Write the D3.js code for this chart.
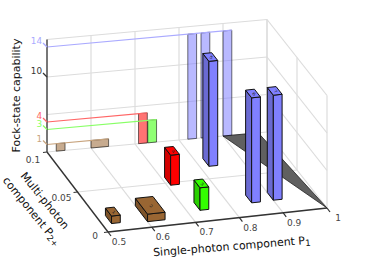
<!DOCTYPE html>
<html><head><meta charset="utf-8">
<script src="https://cdn.jsdelivr.net/npm/d3@7"></script>
<style>html,body{margin:0;padding:0;background:#fff}svg{display:block}text{font-family:"DejaVu Sans",sans-serif}</style>
</head><body><svg id="c" width="374" height="271"></svg>
<script>
const p1Ticks=[0.5,0.6,0.7,0.8,0.9,1];
const p2Ticks=[0,0.05,0.1];
const capGrid=[5,10,15];
const capTicks=[1,3,4,10,14];
const barLabels=["1","2","3","4","5","6","7"];
const barP1=[0.521,0.60,0.729,0.708,0.82,0.85,0.90];
const barP2=[0.0093,0.007,0.0137,0.047,0.065,0.016,0.0164];
const barP1Span=[0.02,0.04,0.02,0.02,0.02,0.02,0.02];
const barP2Span=[0.01,0.02,0.01,0.01,0.01,0.01,0.01];
const barCap=[1,1,3,4,14,14,14];
const regionP1=[1,0.9,0.98];
const regionP2=[0,0.1,0.1];

const barColor={1:"#996633",3:"#33ff00",4:"#ff0000",14:"#8080ff"};
const shadeColor={1:"#7d5329",3:"#29d000",4:"#d40000",14:"#6a6ad2"};
const tickColor={1:"#c8a47e",3:"#88ff66",4:"#ff6666",10:"#333",14:"#aaaaff"};

const sx=d3.scaleLinear().domain([0.5,1]).range([0,1]);
const sy=d3.scaleLinear().domain([0,0.1]).range([0,1]);
const sz=d3.scaleLinear().domain([0,15]).range([0,112.5]);
const O=[108,232],X=[327,208],Y=[47,152],XY=[267,132];
function proj(a,b,c){
  const u=sx(a),v=sy(b);
  const px=(1-u)*(1-v)*O[0]+u*(1-v)*X[0]+(1-u)*v*Y[0]+u*v*XY[0];
  const py=(1-u)*(1-v)*O[1]+u*(1-v)*X[1]+(1-u)*v*Y[1]+u*v*XY[1];
  return [px,py-sz(c||0)];
}
const svg=d3.select("#c");
const line=d3.line();
const path=(pts,close)=>line(pts)+(close?"Z":"");
function seg(g,a,b,color,w){g.append("path").attr("d",path([a,b])).attr("fill","none").attr("stroke",color).attr("stroke-width",w);}

// grid
const grid=svg.append("g");
const gc="#dcdcdc";
p1Ticks.slice(1).forEach(t=>{
  seg(grid,proj(t,0),proj(t,0.1),gc,1.2);
  seg(grid,proj(t,0.1),proj(t,0.1,15),gc,1.2);
});
p2Ticks.forEach(t=>{
  seg(grid,proj(0.5,t),proj(1,t),gc,1.2);
  seg(grid,proj(1,t),proj(1,t,15),gc,1.2);
});
capGrid.forEach(c=>{
  seg(grid,proj(0.5,0.1,c),proj(1,0.1,c),gc,1.2);
  seg(grid,proj(1,0.1,c),proj(1,0,c),gc,1.2);
});

// forbidden region
svg.append("path").attr("d",path(regionP1.map((p,i)=>proj(p,regionP2[i])),true))
  .attr("fill","#606060").attr("stroke","#222").attr("stroke-width",0.8);

// wall projections
const wall=svg.append("g");
barCap.forEach((c,i)=>{
  const a=barP1[i],b=a+barP1Span[i];
  wall.append("path").attr("d",path([proj(a,0.1),proj(a,0.1,c),proj(b,0.1,c),proj(b,0.1)],true))
    .attr("fill",barColor[c]).attr("fill-opacity",0.55).attr("stroke","#000").attr("stroke-opacity",0.55).attr("stroke-width",1);
});
capTicks.filter(c=>barColor[c]).forEach(c=>{
  const ends=barP1.map((p,i)=>barCap[i]===c?p+barP1Span[i]:0);
  seg(wall,proj(0.5,0.1,c),proj(d3.max(ends),0.1,c),tickColor[c],1.2);
});

// axes
const ax=svg.append("g");
const ac="#333";
seg(ax,proj(0.5,0),proj(1,0),ac,1.4);
seg(ax,proj(0.5,0),proj(0.5,0.1),ac,1.4);
seg(ax,proj(0.5,0.1),proj(0.5,0.1,15),"#555",1.6);
const tick=(g,p,dx,dy,c)=>seg(g,p,[p[0]+dx,p[1]+dy],c,1.2);
p1Ticks.forEach(t=>{
  const p=proj(t,0);tick(ax,p,3,4,ac);
  ax.append("text").attr("x",p[0]+11).attr("y",p[1]+13).attr("text-anchor","middle")
    .attr("font-size",9).attr("fill","#444").text(d3.format("~g")(t));
});
p2Ticks.forEach(t=>{
  const p=proj(0.5,t);tick(ax,p,-4,0.5,ac);
  ax.append("text").attr("x",p[0]-(t===0.05?16:t===0.1?14:13)).attr("y",p[1]+(t===0.05?8.5:t===0.1?10.5:6.5)).attr("text-anchor","middle")
    .attr("font-size",9).attr("fill","#444").text(d3.format("~g")(t));
});
capTicks.forEach(c=>{
  const p=proj(0.5,0.1,c);
  tick(ax,p,-4,-4,tickColor[c]);
  ax.append("text").attr("x",p[0]-5).attr("y",p[1]-3).attr("text-anchor","end")
    .attr("font-size",8.8).attr("fill",c===10?"#333":tickColor[c]).text(c);
});

// bars, back to front
const order=d3.range(barCap.length).sort((m,n)=>d3.descending(barP2[m],barP2[n])||d3.ascending(barP1[m],barP1[n]));
const bars=svg.append("g");
order.forEach(i=>{
  const a=barP1[i],b=a+barP1Span[i],c=barP2[i],d=c+barP2Span[i],h=barCap[i];
  const col=barColor[h],sh=shadeColor[h];
  const g=bars.append("g").attr("stroke","#111").attr("stroke-width",1).attr("stroke-linejoin","round");
  g.append("path").attr("d",path([proj(a,d),proj(a,c),proj(a,c,h),proj(a,d,h)],true)).attr("fill",sh);
  g.append("path").attr("d",path([proj(a,c),proj(b,c),proj(b,c,h),proj(a,c,h)],true)).attr("fill",col);
  g.append("path").attr("d",path([proj(a,c,h),proj(b,c,h),proj(b,d,h),proj(a,d,h)],true)).attr("fill",col);
  const m=proj((a+b)/2,(c+d)/2,h);
  bars.append("text").attr("transform",`translate(${m[0]},${m[1]+1.5}) rotate(42) scale(1,0.7)`)
    .attr("text-anchor","middle").attr("font-size",5.5).attr("fill","#222").text(barLabels[i]);
});

// axis titles
svg.append("text").attr("transform","translate(20,95.5) rotate(-90)").attr("text-anchor","middle")
  .attr("font-size",11).attr("fill","#111").text("Fock-state capability");
const xt=svg.append("text").attr("transform","translate(232,250) rotate(-4.6)").attr("text-anchor","middle")
  .attr("font-size",11).attr("fill","#111");
xt.append("tspan").text("Single-photon component P");
xt.append("tspan").attr("font-size",8.5).attr("dy",2).text("1");
svg.append("text").attr("transform","translate(42,203) rotate(51)").attr("text-anchor","middle")
  .attr("font-size",11).attr("fill","#111").text("Multi-photon");
const yt=svg.append("text").attr("transform","translate(29,213.5) rotate(51)").attr("text-anchor","middle")
  .attr("font-size",11).attr("fill","#111");
yt.append("tspan").text("component P");
yt.append("tspan").attr("font-size",8.5).attr("dy",2).text("2+");
</script></body></html>
